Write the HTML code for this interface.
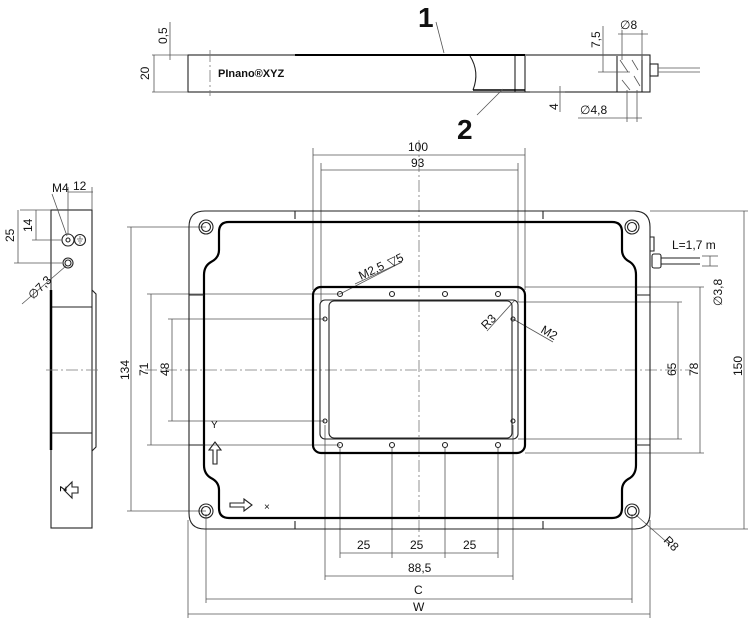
<!DOCTYPE html>
<html><head><meta charset="utf-8"><style>
html,body{margin:0;padding:0;background:#fff;}
svg{display:block;font-family:"Liberation Sans",Arial,sans-serif;}
.t{stroke:#000;stroke-width:2.2;fill:none}
.m{stroke:#222;stroke-width:1.1;fill:none}
.d{stroke:#555;stroke-width:0.8;fill:none}
.c{stroke:#777;stroke-width:0.8;fill:none;stroke-dasharray:12 3 2 3}
text{font-size:12px;fill:#111}
</style></head><body>
<svg width="750" height="625" viewBox="0 0 750 625" xmlns="http://www.w3.org/2000/svg">
<!-- ===== TOP SIDE VIEW ===== -->
<rect x="188" y="55" width="462" height="37" class="m"/>
<path d="M295 55 H525" stroke="#000" stroke-width="2"/>
<line x1="210" y1="50" x2="210" y2="96" class="c"/>
<path d="M470 56 Q480 72 473 90" class="m"/>
<path d="M515 56 L515 92 M525 56 L525 92" class="m"/>
<path d="M473 90 H525" stroke="#000" stroke-width="1.6"/>
<path d="M617 56 V92 M642 56 V92" class="m"/>
<path d="M620 60 l8 12 M622 80 l8 10 M632 60 l6 10 M634 76 l6 10" class="d"/>
<rect x="650" y="64" width="8" height="12" class="m"/>
<line x1="658" y1="68" x2="700" y2="68" class="d"/><line x1="658" y1="72" x2="700" y2="72" class="d"/>
<text x="218" y="77" style="font-size:11px;font-weight:bold">PInano®XYZ</text>
<text x="418" y="27" style="font-size:28px;font-weight:bold">1</text>
<line x1="436" y1="22" x2="444" y2="53" class="d"/>
<text x="457" y="139" style="font-size:28px;font-weight:bold">2</text>
<line x1="477" y1="115" x2="503" y2="89" class="d"/>
<!-- dims side -->
<line x1="152" y1="55" x2="188" y2="55" class="d"/><line x1="152" y1="92" x2="188" y2="92" class="d"/>
<line x1="154" y1="55" x2="154" y2="92" class="d"/>
<text transform="translate(149,80) rotate(-90)">20</text>
<line x1="170" y1="22" x2="170" y2="60" class="d"/>
<text transform="translate(167,44) rotate(-90)">0,5</text>
<line x1="603" y1="26" x2="603" y2="72" class="d"/>
<line x1="598" y1="72" x2="630" y2="72" class="d"/>
<text transform="translate(600,48) rotate(-90)">7,5</text>
<line x1="618" y1="34" x2="648" y2="34" class="d"/>
<line x1="622" y1="30" x2="622" y2="60" class="d"/><line x1="642" y1="30" x2="642" y2="60" class="d"/>
<text x="620" y="29">∅8</text>
<line x1="560" y1="86" x2="560" y2="112" class="d"/>
<line x1="530" y1="92" x2="565" y2="92" class="d"/>
<text transform="translate(558,110) rotate(-90)">4</text>
<line x1="578" y1="118" x2="642" y2="118" class="d"/>
<line x1="627" y1="90" x2="627" y2="122" class="d"/><line x1="637" y1="90" x2="637" y2="122" class="d"/>
<text x="580" y="114">∅4,8</text>

<!-- ===== LEFT SIDE VIEW ===== -->
<rect x="51" y="210" width="41" height="318" class="m"/>
<line x1="51" y1="307" x2="92" y2="307" class="m"/><line x1="51" y1="433" x2="92" y2="433" class="m"/>
<path d="M92 290 l4 4 V447 l-4 4" class="m"/>
<path d="M51 290 V450" stroke="#000" stroke-width="2.5"/>
<line x1="46" y1="370" x2="98" y2="370" class="c"/>
<circle cx="68" cy="240" r="6" class="m"/><circle cx="68" cy="240" r="2" class="m"/>
<circle cx="80" cy="240" r="5.5" class="m"/>
<path d="M77 239 h6 M78 241 h4 M79 243 h2 M80 236 v3" class="d"/>
<circle cx="68" cy="263" r="5" class="m"/><circle cx="68" cy="263" r="3" class="m"/>
<line x1="20" y1="210" x2="51" y2="210" class="d"/><line x1="32" y1="240" x2="62" y2="240" class="d"/>
<line x1="14" y1="263" x2="62" y2="263" class="d"/>
<line x1="18" y1="210" x2="18" y2="263" class="d"/><line x1="36" y1="210" x2="36" y2="240" class="d"/>
<text transform="translate(14,242) rotate(-90)">25</text>
<text transform="translate(32,232) rotate(-90)">14</text>
<line x1="68" y1="187" x2="68" y2="235" class="d"/><line x1="92" y1="187" x2="92" y2="210" class="d"/>
<line x1="68" y1="192" x2="93" y2="192" class="d"/>
<text x="73" y="190">12</text>
<text x="52" y="192">M4</text>
<line x1="52" y1="194" x2="67" y2="236" class="d"/>
<line x1="22" y1="304" x2="66" y2="266" class="d"/>
<text transform="translate(33,300) rotate(-45)">∅7,3</text>
<path d="M66 487 h6 v-5 l8 8 l-8 8 v-5 h-6z" transform="rotate(180 72 490)" class="m"/>
<text transform="translate(60,486) rotate(90)" style="font-size:9px;font-weight:bold">Z</text>

<!-- ===== TOP VIEW ===== -->
<line x1="419" y1="140" x2="419" y2="540" class="c"/>
<line x1="145" y1="370" x2="690" y2="370" class="c"/>
<g class="d">
<line x1="313" y1="148" x2="313" y2="290"/><line x1="525" y1="148" x2="525" y2="290"/>
<line x1="321" y1="163" x2="321" y2="302"/><line x1="518" y1="163" x2="518" y2="302"/>
<line x1="340" y1="448" x2="340" y2="558"/><line x1="392" y1="448" x2="392" y2="558"/>
<line x1="445" y1="448" x2="445" y2="558"/><line x1="498" y1="448" x2="498" y2="558"/>
<line x1="325" y1="425" x2="325" y2="580"/><line x1="513" y1="425" x2="513" y2="580"/>
<line x1="206" y1="514" x2="206" y2="603"/><line x1="632" y1="514" x2="632" y2="603"/>
<line x1="188" y1="520" x2="188" y2="618"/><line x1="650" y1="520" x2="650" y2="618"/>
<line x1="127" y1="227" x2="206" y2="227"/><line x1="127" y1="511" x2="206" y2="511"/>
<line x1="147" y1="294" x2="340" y2="294"/><line x1="147" y1="445" x2="340" y2="445"/>
<line x1="168" y1="319" x2="325" y2="319"/><line x1="168" y1="421" x2="325" y2="421"/>
<line x1="518" y1="302" x2="682" y2="302"/><line x1="518" y1="439" x2="682" y2="439"/>
<line x1="525" y1="287" x2="704" y2="287"/><line x1="525" y1="453" x2="704" y2="453"/>
<line x1="650" y1="211" x2="748" y2="211"/><line x1="650" y1="529" x2="748" y2="529"/>
<line x1="131" y1="227" x2="131" y2="511"/><line x1="151" y1="294" x2="151" y2="445"/>
<line x1="172" y1="319" x2="172" y2="421"/>
<line x1="678" y1="302" x2="678" y2="439"/><line x1="700" y1="287" x2="700" y2="453"/>
<line x1="744" y1="211" x2="744" y2="529"/>
<line x1="313" y1="155" x2="525" y2="155"/><line x1="321" y1="170" x2="518" y2="170"/>
<line x1="340" y1="553" x2="498" y2="553"/><line x1="325" y1="576" x2="513" y2="576"/>
<line x1="206" y1="599" x2="632" y2="599"/><line x1="188" y1="614" x2="650" y2="614"/>
<line x1="636" y1="515" x2="670" y2="545"/>
<line x1="340" y1="294" x2="402" y2="262"/><line x1="355" y1="284" x2="402" y2="262"/>
<line x1="487" y1="331" x2="515" y2="300"/><line x1="513" y1="319" x2="553" y2="342"/>
<line x1="710" y1="256" x2="710" y2="266"/><line x1="702" y1="256" x2="718" y2="256"/><line x1="702" y1="266" x2="718" y2="266"/>
</g>
<text x="408" y="151">100</text><text x="411" y="167">93</text>
<text x="357" y="549">25</text><text x="410" y="549">25</text><text x="463" y="549">25</text>
<text x="408" y="572">88,5</text><text x="414" y="594">C</text><text x="413" y="611">W</text>
<text transform="translate(129,380) rotate(-90)">134</text>
<text transform="translate(148,376) rotate(-90)">71</text>
<text transform="translate(169,376) rotate(-90)">48</text>
<text transform="translate(676,376) rotate(-90)">65</text>
<text transform="translate(698,376) rotate(-90)">78</text>
<text transform="translate(742,376) rotate(-90)">150</text>
<text transform="translate(722,306) rotate(-90)">∅3,8</text>
<text x="672" y="249">L=1,7 m</text>
<text transform="translate(663,541) rotate(45)">R8</text>
<text transform="translate(361,280) rotate(-25)">M2,5</text>
<text transform="translate(390,267) rotate(-25)">▽5</text>
<text transform="translate(486,330) rotate(-45)">R3</text>
<text transform="translate(540,332) rotate(30)">M2</text>
<path d="M205 211 H634 Q650 211 650 227 V513 Q650 529 634 529 H205 Q189 529 189 513 V227 Q189 211 205 211Z" class="m"/>
<path d="M295 211 V219 M543 211 V219 M295 529 V521 M543 529 V521" class="m"/>
<path d="M650 237 h4 v14 h-4" class="m"/>
<path d="M229 222 H612 Q622 222 622 232 V250 Q622 258 630 262 Q636 266 636 275 V465 Q636 474 630 478 Q622 482 622 490 V508 Q622 518 612 518 H229 Q219 518 219 508 V490 Q219 482 211 478 Q204 474 204 465 V275 Q204 266 211 262 Q219 258 219 250 V232 Q219 222 229 222Z" class="t"/>
<path d="M189 295 h15 M189 445 h15 M636 295 h14 M636 445 h14" class="m"/>
<rect x="652" y="254" width="9" height="14" rx="2" class="m"/>
<line x1="661" y1="258" x2="700" y2="258" class="m"/><line x1="661" y1="264" x2="700" y2="264" class="m"/>
<g class="m">
<circle cx="206" cy="227" r="7"/><circle cx="206" cy="227" r="4.5"/>
<circle cx="632" cy="227" r="7"/><circle cx="632" cy="227" r="4.5"/>
<circle cx="206" cy="511" r="7"/><circle cx="206" cy="511" r="4.5"/>
<circle cx="632" cy="511" r="7"/><circle cx="632" cy="511" r="4.5"/>
</g>
<rect x="313" y="287" width="212" height="166" rx="8" class="t"/>
<rect x="320" y="300" width="198" height="139" rx="5" class="m"/>
<rect x="329" y="301" width="183" height="137" rx="5" class="m"/>
<g class="m">
<circle cx="340" cy="294" r="2.5"/><circle cx="392" cy="294" r="2.5"/><circle cx="445" cy="294" r="2.5"/><circle cx="498" cy="294" r="2.5"/>
<circle cx="340" cy="445" r="2.5"/><circle cx="392" cy="445" r="2.5"/><circle cx="445" cy="445" r="2.5"/><circle cx="498" cy="445" r="2.5"/>
<circle cx="325" cy="319" r="2"/><circle cx="325" cy="421" r="2"/><circle cx="513" cy="319" r="2"/><circle cx="513" cy="421" r="2"/>
</g>
<path d="M213 464 v-14 h-4 l6 -8 l6 8 h-4 v14z" class="m"/>
<text x="211" y="428" style="font-size:10px">Y</text>
<path d="M230 503 h14 v-4 l8 6 l-8 6 v-4 h-14z" class="m"/>
<text x="264" y="510" style="font-size:10px">×</text>
</svg>
</body></html>
